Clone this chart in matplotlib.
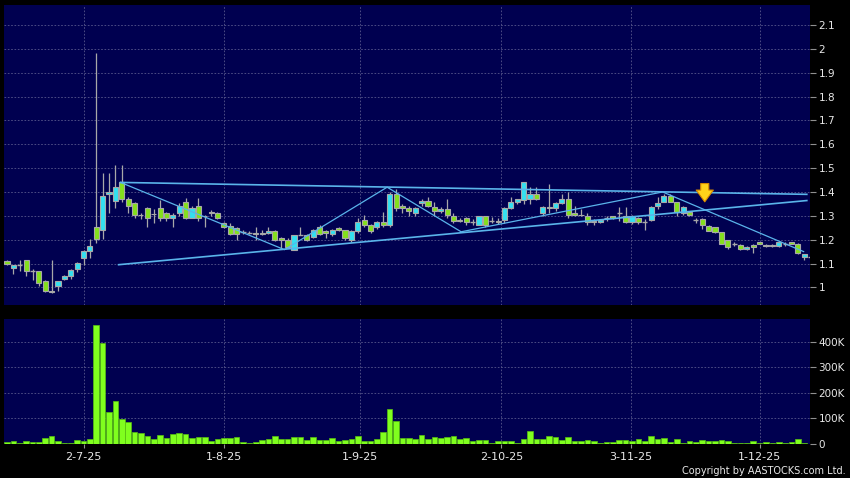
import numpy as np
import matplotlib
matplotlib.use("Agg")
import matplotlib.pyplot as plt

# Daily OHLC, one entry per trading day
opens = [1.110, 1.083, 1.093, 1.114, 1.067, 1.067, 1.026, 0.983, 1.004, 1.033,
         1.046, 1.075, 1.124, 1.153, 1.253, 1.242, 1.390, 1.363, 1.440, 1.371,
         1.354, 1.305, 1.332, 1.308, 1.332, 1.311, 1.289, 1.311, 1.360, 1.292,
         1.342, 1.300, 1.318, 1.311, 1.271, 1.258, 1.250, 1.233, 1.230, 1.230,
         1.230, 1.230, 1.237, 1.209, 1.200, 1.157, 1.221, 1.221, 1.211, 1.251,
         1.235, 1.223, 1.250, 1.240, 1.200, 1.237, 1.282, 1.261, 1.251, 1.272,
         1.261, 1.391, 1.342, 1.332, 1.311, 1.353, 1.363, 1.339, 1.322, 1.329,
         1.300, 1.282, 1.290, 1.276, 1.262, 1.300, 1.280, 1.280, 1.282, 1.332,
         1.360, 1.365, 1.370, 1.392, 1.310, 1.339, 1.332, 1.353, 1.370, 1.311,
         1.304, 1.300, 1.280, 1.272, 1.290, 1.300, 1.311, 1.300, 1.272, 1.289,
         1.275, 1.283, 1.342, 1.360, 1.382, 1.360, 1.311, 1.318, 1.283, 1.287,
         1.259, 1.252, 1.231, 1.200, 1.182, 1.177, 1.160, 1.177, 1.189, 1.176,
         1.176, 1.173, 1.182, 1.189, 1.182, 1.128, 1.128]
highs = [1.115, 1.095, 1.114, 1.114, 1.076, 1.070, 1.030, 1.114, 1.027, 1.050,
         1.076, 1.105, 1.157, 1.204, 1.983, 1.479, 1.479, 1.514, 1.514, 1.380,
         1.360, 1.310, 1.335, 1.327, 1.365, 1.315, 1.310, 1.355, 1.374, 1.340,
         1.374, 1.305, 1.325, 1.315, 1.275, 1.271, 1.252, 1.240, 1.235, 1.254,
         1.240, 1.254, 1.240, 1.210, 1.205, 1.221, 1.254, 1.225, 1.245, 1.260,
         1.240, 1.245, 1.255, 1.240, 1.240, 1.290, 1.303, 1.265, 1.280, 1.318,
         1.400, 1.412, 1.350, 1.340, 1.335, 1.370, 1.380, 1.360, 1.335, 1.370,
         1.310, 1.290, 1.295, 1.285, 1.300, 1.300, 1.295, 1.290, 1.335, 1.378,
         1.372, 1.443, 1.420, 1.420, 1.340, 1.435, 1.360, 1.390, 1.400, 1.340,
         1.330, 1.310, 1.285, 1.285, 1.300, 1.300, 1.335, 1.335, 1.305, 1.295,
         1.285, 1.340, 1.380, 1.390, 1.392, 1.360, 1.340, 1.320, 1.290, 1.290,
         1.260, 1.255, 1.232, 1.200, 1.190, 1.180, 1.175, 1.180, 1.190, 1.180,
         1.180, 1.190, 1.190, 1.190, 1.185, 1.140, 1.135]
lows = [1.095, 1.056, 1.070, 1.046, 1.032, 1.007, 0.982, 0.976, 0.986, 1.030,
        1.035, 1.063, 1.094, 1.122, 1.185, 1.204, 1.312, 1.333, 1.360, 1.312,
        1.290, 1.285, 1.253, 1.270, 1.280, 1.280, 1.254, 1.300, 1.285, 1.290,
        1.280, 1.254, 1.300, 1.285, 1.250, 1.220, 1.197, 1.225, 1.225, 1.197,
        1.220, 1.225, 1.195, 1.162, 1.165, 1.155, 1.218, 1.195, 1.205, 1.220,
        1.205, 1.215, 1.235, 1.200, 1.190, 1.230, 1.255, 1.230, 1.245, 1.255,
        1.255, 1.320, 1.310, 1.300, 1.300, 1.340, 1.335, 1.300, 1.310, 1.290,
        1.270, 1.275, 1.260, 1.260, 1.260, 1.255, 1.270, 1.265, 1.270, 1.330,
        1.350, 1.350, 1.350, 1.365, 1.300, 1.310, 1.320, 1.350, 1.290, 1.300,
        1.300, 1.260, 1.260, 1.270, 1.280, 1.285, 1.280, 1.270, 1.265, 1.265,
        1.240, 1.280, 1.330, 1.360, 1.360, 1.300, 1.305, 1.300, 1.270, 1.245,
        1.235, 1.228, 1.180, 1.160, 1.175, 1.155, 1.155, 1.145, 1.180, 1.170,
        1.170, 1.170, 1.175, 1.180, 1.140, 1.115, 1.120]
closes = [1.100, 1.092, 1.093, 1.067, 1.067, 1.018, 0.985, 0.982, 1.025, 1.047,
          1.074, 1.103, 1.153, 1.174, 1.204, 1.383, 1.400, 1.419, 1.371, 1.340,
          1.304, 1.303, 1.292, 1.307, 1.289, 1.289, 1.304, 1.342, 1.289, 1.332,
          1.292, 1.299, 1.311, 1.289, 1.254, 1.223, 1.223, 1.233, 1.230, 1.223,
          1.224, 1.237, 1.200, 1.200, 1.169, 1.221, 1.221, 1.200, 1.240, 1.223,
          1.227, 1.240, 1.240, 1.209, 1.237, 1.272, 1.261, 1.237, 1.272, 1.262,
          1.391, 1.332, 1.332, 1.322, 1.332, 1.363, 1.342, 1.320, 1.329, 1.304,
          1.280, 1.280, 1.273, 1.276, 1.300, 1.262, 1.280, 1.273, 1.332, 1.360,
          1.370, 1.443, 1.392, 1.370, 1.339, 1.332, 1.353, 1.370, 1.304, 1.304,
          1.303, 1.275, 1.272, 1.282, 1.290, 1.289, 1.311, 1.272, 1.300, 1.272,
          1.275, 1.339, 1.354, 1.382, 1.360, 1.318, 1.339, 1.304, 1.283, 1.262,
          1.238, 1.231, 1.182, 1.170, 1.182, 1.159, 1.170, 1.170, 1.182, 1.174,
          1.174, 1.189, 1.182, 1.182, 1.142, 1.139, 1.128]
volume_k = [8, 10, 4, 10, 5, 8, 24, 29, 9, 4,
            4, 16, 9, 18, 466, 395, 124, 166, 98, 85,
            45, 44, 32, 17, 36, 24, 40, 42, 38, 22,
            28, 25, 12, 17, 24, 21, 26, 5, 4, 7,
            13, 17, 32, 20, 20, 28, 26, 15, 28, 16,
            16, 22, 10, 13, 20, 30, 12, 12, 20, 45,
            135, 88, 22, 21, 20, 34, 17, 28, 21, 25,
            32, 18, 21, 9, 15, 15, 4, 9, 11, 11,
            4, 17, 50, 17, 18, 32, 25, 15, 26, 9,
            9, 15, 11, 4, 7, 7, 16, 15, 9, 20,
            9, 32, 17, 21, 7, 20, 4, 11, 8, 16,
            11, 11, 16, 12, 4, 4, 4, 12, 4, 8,
            4, 8, 4, 7, 18, 4, 0]

date_pos = [12, 34, 55.3, 77.5, 97.8, 118]
date_labels = ["2-7-25", "1-8-25", "1-9-25", "2-10-25", "3-11-25", "1-12-25"]
price_ticks = [1.0, 1.1, 1.2, 1.3, 1.4, 1.5, 1.6, 1.7, 1.8, 1.9, 2.0, 2.1]
price_labels = ["1", "1.1", "1.2", "1.3", "1.4", "1.5", "1.6", "1.7",
                "1.8", "1.9", "2", "2.1"]
vol_ticks = [0, 100000, 200000, 300000, 400000]
vol_labels = ["0", "100K", "200K", "300K", "400K"]

# hand-drawn trend lines (bar index, price)
upper_x, upper_y = [17.8, 125.4], [1.44, 1.39]
lower_x, lower_y = [17.5, 125.4], [1.095, 1.364]
zigzag_x = [17.8, 43.5, 59.6, 71.2, 102.8, 124.9]
zigzag_y = [1.44, 1.158, 1.42, 1.233, 1.40, 1.15]
arrow_x, arrow_top, arrow_tip = 109.4, 1.447, 1.347

NAVY = "#000050"
CYAN = "#33e0f0"
GREEN = "#84e01c"
EDGE = "#a8a8a8"
LINE = "#5ab4ea"
GRID = "#58588c"
TXT = "#e8e8e8"

o = np.array(opens)
h = np.array(highs)
l = np.array(lows)
c = np.array(closes)
v = np.array(volume_k) * 1000.0
x = np.arange(len(o))

fig = plt.figure(figsize=(8.5, 4.78), dpi=100, facecolor="black")
ax = fig.add_axes([4 / 850, 1 - 305 / 478, 806 / 850, 300 / 478])
axv = fig.add_axes([4 / 850, 1 - 444 / 478, 806 / 850, 125 / 478])

xlim = (-0.47, 125.9)
for a in (ax, axv):
    a.set_facecolor(NAVY)
    for s in a.spines.values():
        s.set_visible(False)
    a.set_xlim(*xlim)
    a.set_xticks(date_pos)
    a.yaxis.tick_right()
    a.tick_params(axis="y", colors="#909090", labelcolor=TXT, length=4,
                  width=0.8, pad=2, labelsize=7.5)
    a.grid(True, color=GRID, linestyle=(0, (2, 2)), linewidth=0.6)
    a.set_axisbelow(True)

# candles
bw = 0.8
ax.vlines(x, l, h, color=EDGE, linewidth=0.9, zorder=2)
up = c > o
down = c < o
flat = c == o
body_lo = np.minimum(o, c)
body_h = np.abs(c - o)
ax.bar(x[up], body_h[up], bottom=body_lo[up], width=bw, color=CYAN,
       edgecolor=EDGE, linewidth=0.8, zorder=3)
ax.bar(x[down], body_h[down], bottom=body_lo[down], width=bw, color=GREEN,
       edgecolor=EDGE, linewidth=0.8, zorder=3)
ax.hlines(c[flat], x[flat] - bw / 2, x[flat] + bw / 2, color=EDGE,
          linewidth=1.0, zorder=3)

# trend lines
ax.plot(upper_x, upper_y, color=LINE, linewidth=1.2, zorder=4)
ax.plot(lower_x, lower_y, color=LINE, linewidth=1.2, zorder=4)
ax.plot(zigzag_x, zigzag_y, color=LINE, linewidth=0.9, zorder=4)

ax.annotate("", xy=(arrow_x, arrow_tip), xytext=(arrow_x, arrow_top),
            arrowprops=dict(arrowstyle="simple,head_length=0.65,head_width=0.95,tail_width=0.45",
                            mutation_scale=13, fc="#ffd21a", ec="#d88a00", lw=0.8),
            zorder=5)

ax.set_ylim(0.926, 2.184)
ax.set_yticks(price_ticks)
ax.set_yticklabels(price_labels)
ax.tick_params(axis="x", length=0, labelbottom=False)

# volume
axv.bar(x, v, width=0.88, color="#80ff1e", edgecolor="#58c010",
        linewidth=0.5, zorder=3)
axv.set_ylim(-1000, 490000)
axv.set_yticks(vol_ticks)
axv.set_yticklabels(vol_labels)
axv.set_xticklabels(date_labels)
axv.tick_params(axis="x", colors="#909090", labelcolor=TXT, length=3,
                width=0.8, pad=3, labelsize=8)

fig.text(846 / 850, 1 - 471 / 478, "Copyright by AASTOCKS.com Ltd.",
         color=TXT, fontsize=7, ha="right", va="center")

fig.savefig("out.png", dpi=100, facecolor="black")
